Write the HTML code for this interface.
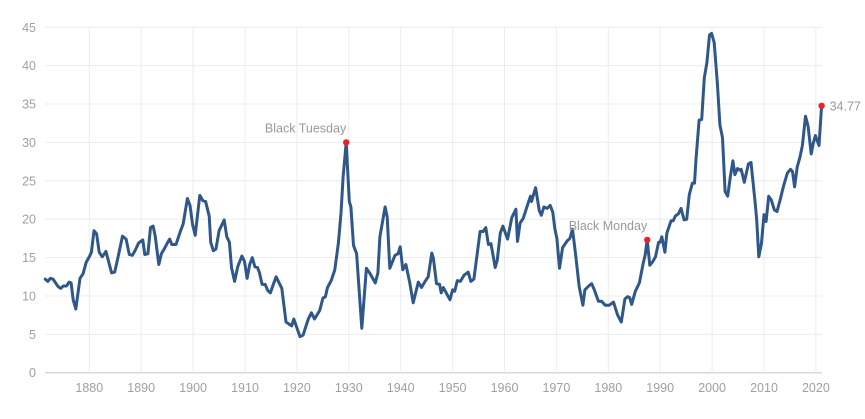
<!DOCTYPE html>
<html><head><meta charset="utf-8"><style>
html,body{margin:0;padding:0;background:#fff;}
svg{display:block;font-family:"Liberation Sans",sans-serif;}
</style></head><body>
<svg id="chart" width="865" height="419" viewBox="0 0 865 419" xmlns="http://www.w3.org/2000/svg">
<g id="grid"></g>
<g id="yaxis"></g>
<g id="xaxis"></g>
<g id="series"></g>
<g id="annos"></g>
</svg>
<script>
const yTicks=[0,5,10,15,20,25,30,35,40,45];
const xTicks=[1880,1890,1900,1910,1920,1930,1940,1950,1960,1970,1980,1990,2000,2010,2020];
const years=[1871.5,1872,1872.5,1873,1874,1874.5,1875,1875.6,1876.1,1876.5,1876.9,1877.4,1878.2,1878.8,1879.4,1880,1880.4,1880.9,1881.4,1881.9,1882.5,1883.2,1884.3,1884.9,1885.4,1886.4,1887.1,1887.7,1888.3,1888.8,1889.5,1890.3,1890.7,1891.3,1891.8,1892.3,1892.7,1893.4,1893.9,1894.5,1895.2,1895.5,1895.9,1896.7,1897.5,1898.1,1898.9,1899.4,1899.9,1900.4,1900.8,1901.3,1901.9,1902.4,1903.1,1903.4,1903.9,1904.4,1905.0,1906.0,1906.5,1907.0,1907.4,1908.0,1908.6,1909.4,1909.9,1910.4,1910.9,1911.4,1911.9,1912.4,1912.8,1913.3,1913.9,1914.4,1914.9,1915.3,1916.0,1917.1,1917.9,1919.0,1919.4,1920.6,1921.2,1922.2,1922.8,1923.4,1924.4,1925.0,1925.5,1925.9,1926.6,1927.3,1928.0,1928.5,1928.9,1929.5,1930.1,1930.4,1930.9,1931.5,1932.5,1933.4,1934.0,1935.1,1935.6,1936.0,1937.0,1937.4,1937.9,1938.9,1939.5,1939.9,1940.4,1941.0,1941.7,1942.4,1943.4,1944.0,1944.7,1945.3,1946.0,1946.3,1946.9,1947.5,1947.8,1948.2,1949.5,1950.0,1950.4,1950.9,1951.5,1952.2,1953.0,1953.5,1954.1,1955.3,1955.9,1956.4,1956.9,1957.4,1958.2,1958.6,1959.2,1959.7,1960.6,1961.4,1962.2,1962.5,1963.0,1963.6,1964.6,1965.0,1965.2,1966.0,1966.7,1967.1,1967.6,1968.2,1968.8,1969.3,1969.7,1970.1,1970.6,1971.2,1972.1,1972.6,1973.1,1973.7,1974.4,1975.1,1975.5,1976.4,1976.8,1977.3,1978.1,1978.7,1979.4,1980.2,1981.0,1981.8,1982.5,1983.2,1983.7,1984.1,1984.5,1985.2,1986.0,1986.7,1987.1,1987.5,1988.0,1988.5,1989.1,1989.7,1990.0,1990.3,1990.9,1991.3,1992.1,1992.5,1992.9,1993.5,1994.0,1994.6,1995.1,1995.6,1996.2,1996.6,1996.9,1997.5,1998.0,1998.5,1999.0,1999.5,1999.9,2000.4,2001.0,2001.5,2002.0,2002.5,2003.0,2003.5,2004.0,2004.4,2004.9,2005.3,2005.6,2006.2,2007.0,2007.5,2008.3,2008.6,2009.0,2009.5,2010.0,2010.4,2010.9,2011.4,2012.0,2012.5,2013.1,2013.8,2014.5,2015.1,2015.5,2015.9,2016.4,2016.9,2017.4,2018.0,2018.5,2019.1,2019.5,2019.9,2020.6,2021.1];
const values=[12.2,11.9,12.3,12.2,11.2,11.0,11.3,11.3,11.8,11.7,9.5,8.3,12.3,12.9,14.4,15.1,15.7,18.5,18.1,15.7,15.1,15.8,13.0,13.1,14.6,17.8,17.4,15.4,15.3,15.9,16.9,17.3,15.4,15.5,18.9,19.1,17.8,14.1,15.5,16.2,17.1,17.4,16.7,16.7,18.3,19.4,22.7,21.8,19.3,17.9,20.3,23.1,22.4,22.3,20.4,17.0,15.9,16.1,18.5,19.9,17.7,17.0,13.7,11.9,13.8,15.2,14.5,12.3,14.1,15.0,13.8,13.7,13.0,11.5,11.5,10.7,10.4,11.2,12.5,11.0,6.6,6.1,7.0,4.7,4.9,7.0,7.8,7.0,8.1,9.7,9.9,11.1,12.0,13.4,16.9,20.8,25.5,30.0,22.3,21.6,16.6,15.5,5.8,13.6,13.0,11.7,13.0,17.7,21.6,20.3,13.6,15.3,15.5,16.4,13.4,14.1,11.9,9.1,11.8,11.1,11.9,12.5,15.6,14.9,11.6,11.5,10.4,11.1,9.5,10.8,10.6,12.0,11.9,12.7,13.1,11.9,12.2,18.4,18.4,18.9,16.7,16.8,13.7,14.6,18.2,19.1,17.4,20.2,21.3,17.1,19.5,20.1,22.2,23.0,22.3,24.1,21.1,20.5,21.6,21.4,21.8,20.9,18.8,17.5,13.6,16.3,17.2,17.5,18.7,15.4,11.2,8.8,10.8,11.4,11.6,10.8,9.3,9.3,8.8,8.8,9.2,7.5,6.6,9.6,9.9,9.8,8.9,10.6,11.7,14.2,15.3,17.3,14.0,14.4,15.1,17.0,17.0,17.7,15.7,18.2,19.8,19.8,20.4,20.7,21.4,19.9,20.0,23.2,24.7,24.7,27.8,32.9,33.0,38.4,40.4,44.0,44.2,43.0,37.8,32.3,30.6,23.6,23.0,25.5,27.6,25.8,26.6,26.4,26.5,24.8,27.2,27.4,22.1,19.9,15.1,16.8,20.6,19.7,23.0,22.5,21.2,21.0,22.5,24.4,26.0,26.5,26.2,24.2,26.8,28.0,29.6,33.4,32.1,28.5,29.9,30.9,29.6,34.77];
const annoLabels=["Black Tuesday","Black Monday"];
const annoYears=[1929.5,1987.5];
const annoValues=[30.0,17.3];
const lastLabel="34.77";

const NS="http://www.w3.org/2000/svg";
const X0=89.3,XS=5.19,Y0=372.7,YS=7.676,L=45,R=822;
function x(yr){return X0+(yr-1880)*XS;}
function y(v){return Y0-v*YS;}
function mk(tag,attrs,parent){const e=document.createElementNS(NS,tag);for(const k in attrs)e.setAttribute(k,attrs[k]);parent.appendChild(e);return e;}
const grid=document.getElementById('grid'),ya=document.getElementById('yaxis'),xa=document.getElementById('xaxis'),ser=document.getElementById('series'),an=document.getElementById('annos');
yTicks.forEach(t=>{
  const l=mk('line',{x1:L,x2:R,y1:y(t),y2:y(t),stroke:t===0?'#d8d8d8':'#ececec','stroke-width':t===0?1.5:1},grid);
  
  
  const tx=mk('text',{x:36,y:y(t)+4.5,'text-anchor':'end','font-size':12.5,fill:'#a0a0a0'},ya);
  tx.textContent=t;
  
  
});
xTicks.forEach(t=>{
  const l=mk('line',{x1:x(t),x2:x(t),y1:27,y2:Y0,stroke:'#ececec','stroke-width':1},grid);
  
  
  const tx=mk('text',{x:x(t),y:392,'text-anchor':'middle','font-size':12.5,fill:'#a0a0a0'},xa);
  tx.textContent=t;
  
  
});
let d='';
years.forEach((yr,i)=>{d+=(i?'L':'M')+x(yr).toFixed(1)+','+y(values[i]).toFixed(1);});
const p=mk('path',{d:d,fill:'none',stroke:'#2f5789','stroke-width':3,'stroke-linejoin':'round','stroke-linecap':'round'},ser);


annoLabels.forEach((lab,i)=>{
  const c=mk('circle',{cx:x(annoYears[i]),cy:y(annoValues[i]),r:3.2,fill:'#e8202a'},an);
  
  
  const t=mk('text',{x:x(annoYears[i])+(i===0?0:0),y:y(annoValues[i])-10,'text-anchor':'end','font-size':12.5,fill:'#999'},an);
  t.textContent=lab;
  
  
});
const lc=mk('circle',{cx:x(years[years.length-1]),cy:y(values[values.length-1]),r:3.2,fill:'#e8202a'},an);


const lt=mk('text',{x:x(years[years.length-1])+8,y:y(values[values.length-1])+4.5,'font-size':12.5,fill:'#999'},an);
lt.textContent=lastLabel;


</script>
</body></html>
